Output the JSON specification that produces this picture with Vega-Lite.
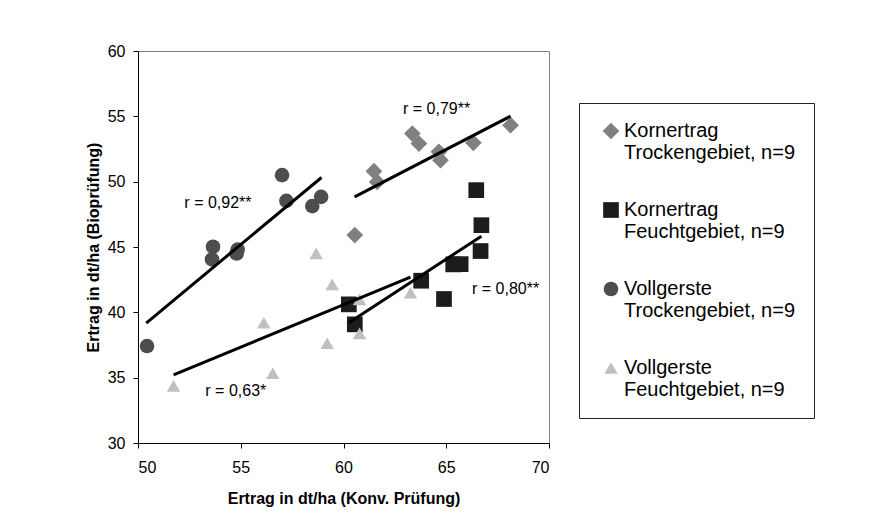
{
  "$schema": "https://vega.github.io/schema/vega-lite/v6.json",
  "width": 411,
  "height": 392,
  "autosize": {"type": "none"},
  "padding": {"left": 138, "top": 51, "right": 339, "bottom": 75},
  "background": "white",
  "config": {
    "font": "Liberation Sans",
    "view": {"stroke": "#808080", "strokeWidth": 1},
    "axis": {
      "grid": false,
      "domainColor": "#000000",
      "domainWidth": 1,
      "tickColor": "#000000",
      "tickSize": 5,
      "labelFontSize": 16,
      "labelColor": "#000000",
      "labelFont": "Liberation Sans",
      "titleFont": "Liberation Sans",
      "titleFontSize": 16,
      "titleFontWeight": "bold",
      "titleColor": "#000000"
    }
  },
  "datasets": {
    "points": [
      {"serie": "Kornertrag\nTrockengebiet, n=9", "konv": 60.55, "bio": 45.91},
      {"serie": "Kornertrag\nTrockengebiet, n=9", "konv": 61.48, "bio": 50.8},
      {"serie": "Kornertrag\nTrockengebiet, n=9", "konv": 61.64, "bio": 49.98},
      {"serie": "Kornertrag\nTrockengebiet, n=9", "konv": 63.35, "bio": 53.68},
      {"serie": "Kornertrag\nTrockengebiet, n=9", "konv": 63.67, "bio": 52.92},
      {"serie": "Kornertrag\nTrockengebiet, n=9", "konv": 64.64, "bio": 52.28},
      {"serie": "Kornertrag\nTrockengebiet, n=9", "konv": 64.72, "bio": 51.64},
      {"serie": "Kornertrag\nTrockengebiet, n=9", "konv": 66.32, "bio": 52.97},
      {"serie": "Kornertrag\nTrockengebiet, n=9", "konv": 68.13, "bio": 54.32},
      {"serie": "Kornertrag\nFeuchtgebiet, n=9", "konv": 60.26, "bio": 40.61},
      {"serie": "Kornertrag\nFeuchtgebiet, n=9", "konv": 60.55, "bio": 39.08},
      {"serie": "Kornertrag\nFeuchtgebiet, n=9", "konv": 63.78, "bio": 42.42},
      {"serie": "Kornertrag\nFeuchtgebiet, n=9", "konv": 64.89, "bio": 41.02},
      {"serie": "Kornertrag\nFeuchtgebiet, n=9", "konv": 65.34, "bio": 43.67},
      {"serie": "Kornertrag\nFeuchtgebiet, n=9", "konv": 65.7, "bio": 43.69},
      {"serie": "Kornertrag\nFeuchtgebiet, n=9", "konv": 66.46, "bio": 49.35},
      {"serie": "Kornertrag\nFeuchtgebiet, n=9", "konv": 66.71, "bio": 46.67},
      {"serie": "Kornertrag\nFeuchtgebiet, n=9", "konv": 66.67, "bio": 44.69},
      {"serie": "Vollgerste\nTrockengebiet, n=9", "konv": 50.44, "bio": 37.42},
      {"serie": "Vollgerste\nTrockengebiet, n=9", "konv": 53.65, "bio": 45.02},
      {"serie": "Vollgerste\nTrockengebiet, n=9", "konv": 53.6, "bio": 44.05},
      {"serie": "Vollgerste\nTrockengebiet, n=9", "konv": 54.85, "bio": 44.8},
      {"serie": "Vollgerste\nTrockengebiet, n=9", "konv": 54.8, "bio": 44.5},
      {"serie": "Vollgerste\nTrockengebiet, n=9", "konv": 57.01, "bio": 50.5},
      {"serie": "Vollgerste\nTrockengebiet, n=9", "konv": 57.22, "bio": 48.53},
      {"serie": "Vollgerste\nTrockengebiet, n=9", "konv": 58.48, "bio": 48.13},
      {"serie": "Vollgerste\nTrockengebiet, n=9", "konv": 58.91, "bio": 48.84},
      {"serie": "Vollgerste\nFeuchtgebiet, n=9", "konv": 51.73, "bio": 34.37},
      {"serie": "Vollgerste\nFeuchtgebiet, n=9", "konv": 56.56, "bio": 35.34},
      {"serie": "Vollgerste\nFeuchtgebiet, n=9", "konv": 56.12, "bio": 39.2},
      {"serie": "Vollgerste\nFeuchtgebiet, n=9", "konv": 59.21, "bio": 37.63},
      {"serie": "Vollgerste\nFeuchtgebiet, n=9", "konv": 58.67, "bio": 44.51},
      {"serie": "Vollgerste\nFeuchtgebiet, n=9", "konv": 59.45, "bio": 42.14},
      {"serie": "Vollgerste\nFeuchtgebiet, n=9", "konv": 60.78, "bio": 40.99},
      {"serie": "Vollgerste\nFeuchtgebiet, n=9", "konv": 60.78, "bio": 38.39},
      {"serie": "Vollgerste\nFeuchtgebiet, n=9", "konv": 63.26, "bio": 41.5}
    ],
    "fits": [
      {"fit": "KT", "konv": 60.54, "bio": 48.84},
      {"fit": "KT", "konv": 68.13, "bio": 55.01},
      {"fit": "KF", "konv": 60.26, "bio": 39.2},
      {"fit": "KF", "konv": 66.71, "bio": 45.83},
      {"fit": "VT", "konv": 50.4, "bio": 39.18},
      {"fit": "VT", "konv": 58.93, "bio": 50.32},
      {"fit": "VF", "konv": 51.73, "bio": 35.21},
      {"fit": "VF", "konv": 63.26, "bio": 42.7}
    ],
    "labels": [
      {"text": "r = 0,92**", "konv": 53.89, "bio": 48.36},
      {"text": "r = 0,63*", "konv": 54.76, "bio": 33.98},
      {"text": "r = 0,79**", "konv": 64.53, "bio": 55.54},
      {"text": "r = 0,80**", "konv": 67.89, "bio": 41.78}
    ]
  },
  "layer": [
    {
      "data": {"name": "points"},
      "mark": {"type": "point", "filled": true, "opacity": 1, "strokeWidth": 0},
      "encoding": {
        "x": {
          "field": "konv", "type": "quantitative",
          "scale": {"domain": [50, 70], "nice": false, "zero": false},
          "axis": {"values": [50, 55, 60, 65, 70], "title": "Ertrag in dt/ha (Konv. Prüfung)", "labelPadding": 11, "titlePadding": 15}
        },
        "y": {
          "field": "bio", "type": "quantitative",
          "scale": {"domain": [30, 60], "nice": false, "zero": false},
          "axis": {"values": [30, 35, 40, 45, 50, 55, 60], "title": "Ertrag in dt/ha (Bioprüfung)", "labelPadding": 8, "titlePadding": 6}
        },
        "color": {
          "field": "serie", "type": "nominal",
          "scale": {
            "domain": ["Kornertrag\nTrockengebiet, n=9", "Kornertrag\nFeuchtgebiet, n=9", "Vollgerste\nTrockengebiet, n=9", "Vollgerste\nFeuchtgebiet, n=9"],
            "range": ["#808080", "#1c1c1c", "#4d4d4d", "#c0c0c0"]
          },
          "legend": {
            "title": null,
            "orient": "none",
            "legendX": 441,
            "legendY": 52,
            "strokeColor": "#222222",
            "padding": 18,
            "symbolOffset": 4,
            "labelOffset": 3,
            "symbolSize": 170,
            "symbolStrokeWidth": 0,
            "labelFontSize": 20,
            "labelColor": "#000000",
            "labelLimit": 400,
            "rowPadding": 37,
            "labelExpr": "split(datum.label, '\\n')",
            "encode": {
              "labels": {"update": {"lineHeight": {"value": 24}, "dy": {"value": 12}}}
            }
          }
        },
        "shape": {
          "field": "serie", "type": "nominal",
          "scale": {
            "domain": ["Kornertrag\nTrockengebiet, n=9", "Kornertrag\nFeuchtgebiet, n=9", "Vollgerste\nTrockengebiet, n=9", "Vollgerste\nFeuchtgebiet, n=9"],
            "range": ["diamond", "square", "circle", "triangle-up"]
          }
        },
        "size": {
          "field": "serie", "type": "nominal",
          "scale": {
            "domain": ["Kornertrag\nTrockengebiet, n=9", "Kornertrag\nFeuchtgebiet, n=9", "Vollgerste\nTrockengebiet, n=9", "Vollgerste\nFeuchtgebiet, n=9"],
            "range": [280, 180, 225, 280]
          },
          "legend": null
        }
      }
    },
    {
      "data": {"name": "fits"},
      "mark": {"type": "line", "color": "#000000", "strokeWidth": 3},
      "encoding": {
        "x": {"field": "konv", "type": "quantitative"},
        "y": {"field": "bio", "type": "quantitative"},
        "detail": {"field": "fit", "type": "nominal"}
      }
    },
    {
      "data": {"name": "labels"},
      "mark": {"type": "text", "fontSize": 16, "color": "#000000", "align": "center", "baseline": "middle", "font": "Liberation Sans"},
      "encoding": {
        "x": {"field": "konv", "type": "quantitative"},
        "y": {"field": "bio", "type": "quantitative"},
        "text": {"field": "text", "type": "nominal"}
      }
    }
  ]
}
